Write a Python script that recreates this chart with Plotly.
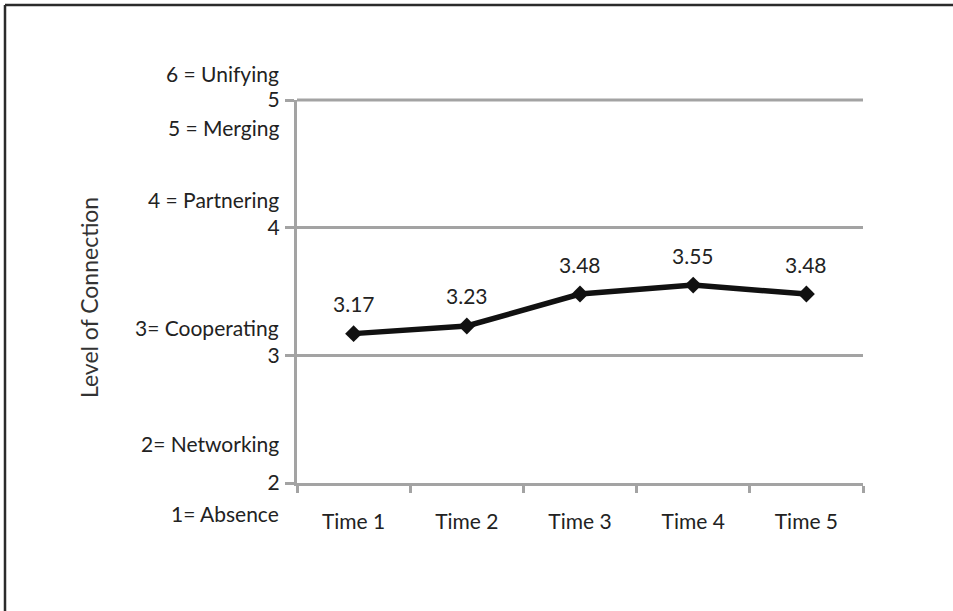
import plotly.graph_objects as go

# Mean level of connection at each measurement time
times = ["Time 1", "Time 2", "Time 3", "Time 4", "Time 5"]
mean_level = [3.17, 3.23, 3.48, 3.55, 3.48]

# Y-axis ticks and the descriptive scale shown beside them
y_ticks = [2, 3, 4, 5]
scale_labels = ["6 = Unifying", "5 = Merging", "4 = Partnering",
                "3= Cooperating", "2= Networking", "1= Absence"]

FIG_W, FIG_H = 953, 611
M_L, M_R, M_T, M_B = 297, 90, 100, 128
PLOT_W = FIG_W - M_L - M_R
PLOT_H = FIG_H - M_T - M_B

FONT = "Lato"
GRID = "#a3a3a3"
TEXT = "#222222"


def px_x(px):
    return (px - M_L) / PLOT_W


def px_y(py):
    return 1 - (py - M_T) / PLOT_H


fig = go.Figure()
fig.add_trace(go.Scatter(
    x=times, y=mean_level, mode="lines+markers",
    line=dict(color="#111111", width=5.5),
    marker=dict(symbol="diamond", size=13, color="#111111"),
    hoverinfo="x+y", showlegend=False,
))

# value labels above each point
for t, v in zip(times, mean_level):
    fig.add_annotation(x=t, y=v, text=f"{v:.2f}", showarrow=False,
                       yshift=30, font=dict(family=FONT, size=21, color=TEXT))

# descriptive scale text to the left of the axis
scale_rows = [74, 127, 199, 327, 443, 513]
for lab, row in zip(scale_labels, scale_rows):
    fig.add_annotation(xref="paper", yref="paper", x=px_x(281), y=px_y(row),
                       xanchor="right", yanchor="middle", text=lab,
                       showarrow=False,
                       font=dict(family=FONT, size=21, color=TEXT))

# gridline on the top tick (the top of the y range), which plotly leaves out
fig.add_shape(type="line", xref="paper", yref="paper", layer="below",
              x0=0, x1=1, y0=1, y1=1,
              line=dict(color=GRID, width=3))

# outer frame: top and left edges
frame = dict(color="#2b2b2b", width=2.5)
fig.add_shape(type="line", xref="paper", yref="paper",
              x0=px_x(5), y0=px_y(5), x1=px_x(FIG_W + 2), y1=px_y(5), line=frame)
fig.add_shape(type="line", xref="paper", yref="paper",
              x0=px_x(5), y0=px_y(5), x1=px_x(5), y1=px_y(FIG_H + 2), line=frame)

fig.update_layout(
    width=FIG_W, height=FIG_H,
    margin=dict(l=M_L, r=M_R, t=M_T, b=M_B),
    paper_bgcolor="white", plot_bgcolor="white",
    font=dict(family=FONT, size=21, color=TEXT),
    xaxis=dict(
        type="category", range=[-0.5, len(times) - 0.5],
        showgrid=False, showline=True, linecolor=GRID, linewidth=3,
        ticks="outside", tickson="boundaries", ticklen=7, tickwidth=3,
        tickcolor=GRID, ticklabelstandoff=18,
        tickfont=dict(family=FONT, size=21, color=TEXT),
    ),
    yaxis=dict(
        range=[y_ticks[0], y_ticks[-1]], tickvals=y_ticks,
        ticktext=[str(v) for v in y_ticks],
        showgrid=True, gridcolor=GRID, gridwidth=3,
        showline=True, linecolor=GRID, linewidth=3, zeroline=False,
        ticks="outside", ticklen=9, tickwidth=3, tickcolor=GRID,
        ticklabelstandoff=1,
        tickfont=dict(family=FONT, size=21, color=TEXT),
    ),
)

# axis title placed by hand
fig.add_annotation(xref="paper", yref="paper", x=px_x(89), y=px_y(298),
                   text="Level of Connection", textangle=-90, showarrow=False,
                   xanchor="center", yanchor="middle",
                   font=dict(family=FONT, size=23, color="#333333"))

fig.write_html("out.html")
